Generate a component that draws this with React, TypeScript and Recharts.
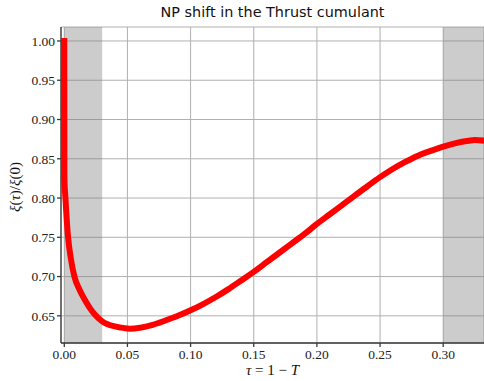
import { LineChart, Line, XAxis, YAxis, CartesianGrid, ReferenceArea } from 'recharts';

// tau = 1 - T and xi(tau)/xi(0)
const tau = [
  0, 0.0001, 0.0009, 0.003, 0.005, 0.008, 0.012, 0.016, 0.02, 0.024, 0.03, 0.04, 0.045, 0.052,
  0.06, 0.07, 0.08, 0.09, 0.1, 0.11, 0.12, 0.13, 0.14, 0.15, 0.16, 0.17, 0.18, 0.19, 0.2, 0.21,
  0.22, 0.23, 0.24, 0.25, 0.26, 0.27, 0.28, 0.29, 0.3, 0.31, 0.32, 0.325, 0.333,
];
const ratio = [
  1.0, 0.824, 0.8, 0.75, 0.725, 0.7, 0.6835, 0.671, 0.6605, 0.652, 0.643, 0.6365, 0.635, 0.6336,
  0.6348, 0.6385, 0.644, 0.65, 0.657, 0.665, 0.674, 0.684, 0.695, 0.706, 0.718, 0.73, 0.742,
  0.754, 0.767, 0.779, 0.791, 0.803, 0.815, 0.8266, 0.837, 0.846, 0.854, 0.86, 0.8655, 0.87,
  0.873, 0.874, 0.873,
];

const xTicks = [0, 0.05, 0.1, 0.15, 0.2, 0.25, 0.3];
const yTicks = [0.65, 0.7, 0.75, 0.8, 0.85, 0.9, 0.95, 1.0];
const xDomain = [-0.0026, 0.3323];
const yDomain = [0.6154, 1.0178];
const bands = [
  [0, 0.03],
  [0.3, 0.3323],
];

const data = tau.map((t, i) => ({ tau: t, ratio: ratio[i] }));

const serif = '"Liberation Serif", "DejaVu Serif", serif';
const tickStyle = { fontFamily: serif, fontSize: 13.5, fill: '#222' };
const spine = '#3a3a3a';

export default function App() {
  return (
    <div style={{ position: 'absolute', left: 0, top: 0, width: 484, height: 381, background: '#fff' }}>
      <div
        style={{
          position: 'absolute', left: 61, width: 423, top: 4, textAlign: 'center',
          fontFamily: '"DejaVu Sans", sans-serif', fontSize: 14.4, color: '#111',
        }}
      >
        NP shift in the Thrust cumulant
      </div>
      <LineChart width={484} height={381} data={data} margin={{ top: 27, right: 0, bottom: 0, left: 0 }}>
        {bands.map(([a, b]) => (
          <ReferenceArea key={a} x1={a} x2={b} fill="#808080" fillOpacity={0.4} stroke="none" ifOverflow="hidden" />
        ))}
        <CartesianGrid stroke="#b0b0b0" strokeWidth={1} />
        <XAxis
          dataKey="tau" type="number" domain={xDomain} allowDataOverflow ticks={xTicks}
          tickFormatter={(v: number) => v.toFixed(2)} tick={tickStyle} tickSize={4}
          stroke={spine} strokeWidth={1.3} height={38} interval={0}
        />
        <XAxis xAxisId="top" orientation="top" type="number" domain={xDomain} allowDataOverflow
          tick={false} tickLine={false} stroke={spine} strokeWidth={1.3} height={0} />
        <YAxis
          type="number" domain={yDomain} allowDataOverflow ticks={yTicks}
          tickFormatter={(v: number) => v.toFixed(2)} tick={tickStyle} tickSize={4}
          stroke={spine} strokeWidth={1.3} width={61} interval={0}
        />
        <Line
          type="monotone" dataKey="ratio" stroke="#ff0000" strokeWidth={6} dot={false}
          isAnimationActive={false} strokeLinecap="square" strokeLinejoin="round"
        />
      </LineChart>
      <div
        style={{
          position: 'absolute', left: 61, width: 423, top: 362, textAlign: 'center',
          fontFamily: serif, fontSize: 15, color: '#111',
        }}
      >
        <i>τ</i> = 1 − <i>T</i>
      </div>
      <div
        style={{
          position: 'absolute', left: 15, top: 187, transform: 'translate(-50%, -50%) rotate(-90deg)',
          whiteSpace: 'nowrap', fontFamily: serif, fontSize: 15, color: '#111',
        }}
      >
        <i>ξ</i>(<i>τ</i>)/<i>ξ</i>(0)
      </div>
    </div>
  );
}
